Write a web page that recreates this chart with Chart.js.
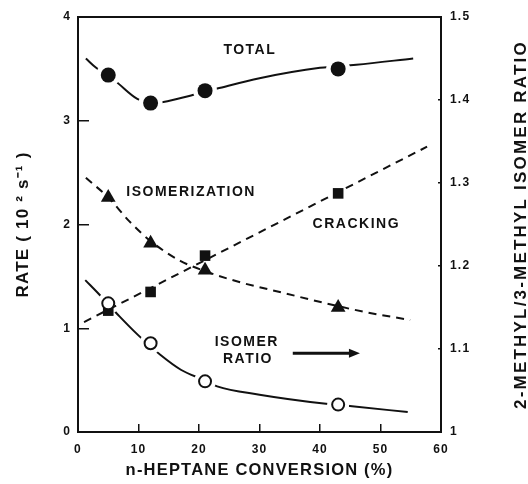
<!DOCTYPE html>
<html>
<head>
<meta charset="utf-8">
<script src="https://cdn.jsdelivr.net/npm/chart.js@4.4.1/dist/chart.umd.min.js"></script>
<style>
  html, body { margin: 0; padding: 0; background: #fff; }
  canvas { display: block; }
</style>
</head>
<body>
<canvas id="chart" width="528" height="484"></canvas>
<script>
// n-heptane conversion (%) at which the rates were measured
const conversion = [5, 12, 21, 43];

// Measured rates (10^2 s^-1) and 2-methyl/3-methyl isomer ratio
const totalRate = [3.44, 3.17, 3.29, 3.50];
const isomerizationRate = [2.26, 1.82, 1.56, 1.20];
const crackingRate = [1.17, 1.35, 1.70, 2.30];
const isomerRatio = [1.155, 1.107, 1.061, 1.033];

// Smoothed trend curves drawn through the measurements
const totalCurveX = [1.3, 3, 6.2, 9.8, 12.5, 17, 23, 30, 40, 46, 55.4];
const totalCurveY = [3.60, 3.51, 3.38, 3.21, 3.17, 3.22, 3.31, 3.41, 3.51, 3.54, 3.60];

const isomerizationCurveX = [1.3, 5, 8.5, 12, 16.9, 21, 27, 34, 41, 48, 54.9];
const isomerizationCurveY = [2.45, 2.26, 2.03, 1.84, 1.65, 1.55, 1.44, 1.34, 1.24, 1.15, 1.08];

const crackingLineX = [1.0, 57.7];
const crackingLineY = [1.06, 2.75];

const ratioCurveX = [1.2, 3.6, 6.9, 9.9, 13.6, 17, 21, 23, 30, 41, 45.3, 54.5];
const ratioCurveY = [1.183, 1.165, 1.139, 1.117, 1.093, 1.075, 1.062, 1.055, 1.045, 1.034, 1.031, 1.024];

// Axis ticks
const conversionTicks = [0, 10, 20, 30, 40, 50, 60];
const rateTicks = [0, 1, 2, 3, 4];
const ratioTicks = [1.0, 1.1, 1.2, 1.3, 1.4, 1.5];

const pts = (xs, ys) => xs.map((x, i) => ({ x: x, y: ys[i] }));

const INK = '#111';
const FONT = '"Liberation Sans", Arial, Helvetica, sans-serif';

// Text labels and the arrow placed inside the plot
const plotText = {
  id: 'plotText',
  afterDatasetsDraw(chart) {
    const { ctx, scales } = chart;
    const x = scales.x, y = scales.y;
    ctx.save();
    ctx.fillStyle = INK;
    ctx.strokeStyle = INK;
    ctx.font = 'bold 14px ' + FONT;
    ctx.letterSpacing = '1.5px';
    ctx.textAlign = 'center';
    ctx.textBaseline = 'middle';
    const put = (t, xv, yv) => ctx.fillText(t, x.getPixelForValue(xv), y.getPixelForValue(yv));
    put('TOTAL', 28.4, 3.68);
    put('ISOMERIZATION', 18.7, 2.31);
    put('CRACKING', 46.0, 2.00);
    put('ISOMER', 27.9, 0.87);
    put('RATIO', 28.1, 0.70);

    // arrow pointing to the right-hand axis
    const ax0 = x.getPixelForValue(35.5), ax1 = x.getPixelForValue(46.6);
    const ay = y.getPixelForValue(0.76);
    ctx.lineWidth = 3;
    ctx.beginPath();
    ctx.moveTo(ax0, ay);
    ctx.lineTo(ax1 - 8, ay);
    ctx.stroke();
    ctx.beginPath();
    ctx.moveTo(ax1, ay);
    ctx.lineTo(ax1 - 11, ay - 4.5);
    ctx.lineTo(ax1 - 11, ay + 4.5);
    ctx.closePath();
    ctx.fill();
    ctx.restore();
  }
};

// Plot frame and the right-hand axis title (reads bottom to top)
const frameAndTitle = {
  id: 'frameAndTitle',
  beforeDraw(chart) {
    chart.ctx.letterSpacing = '1.2px';
  },
  afterDraw(chart) {
    const { ctx, chartArea: a } = chart;
    ctx.save();
    ctx.strokeStyle = INK;
    ctx.lineWidth = 2;
    ctx.strokeRect(a.left, a.top, a.right - a.left, a.bottom - a.top);

    ctx.fillStyle = INK;
    ctx.font = 'bold 17px ' + FONT;
    ctx.letterSpacing = '2.2px';
    ctx.textAlign = 'center';
    ctx.textBaseline = 'middle';
    ctx.translate(521, (a.top + a.bottom) / 2);
    ctx.rotate(-Math.PI / 2);
    ctx.fillText('2-METHYL/3-METHYL ISOMER RATIO', 0, 0);
    ctx.restore();
  }
};

const curve = (data, axis, order, dash) => ({
  type: 'line',
  data: data,
  yAxisID: axis,
  borderColor: INK,
  borderWidth: 2,
  borderDash: dash || [],
  pointRadius: 0,
  cubicInterpolationMode: 'monotone',
  fill: false,
  order: order
});

const markers = (data, axis, order, style, radius, hollow) => ({
  type: 'line',
  data: data,
  yAxisID: axis,
  showLine: false,
  pointStyle: style,
  pointRadius: radius,
  pointBackgroundColor: hollow ? '#fff' : INK,
  pointBorderColor: INK,
  pointBorderWidth: hollow ? 2 : 0,
  order: order
});

// white discs that open a gap in a solid curve around its markers
const halo = (data, axis, order, radius) => ({
  type: 'line',
  data: data,
  yAxisID: axis,
  showLine: false,
  pointStyle: 'circle',
  pointRadius: radius,
  pointBackgroundColor: '#fff',
  pointBorderColor: '#fff',
  pointBorderWidth: 0,
  order: order
});

const noEdgePadding = s => { s.paddingTop = 0; s.paddingBottom = 0; };

new Chart(document.getElementById('chart'), {
  data: {
    datasets: [
      curve(pts(totalCurveX, totalCurveY), 'y', 10),
      halo(pts(conversion, totalRate), 'y', 9, 12),
      curve(pts(ratioCurveX, ratioCurveY), 'y2', 8),
      halo(pts(conversion, isomerRatio), 'y2', 7, 11),
      curve(pts(crackingLineX, crackingLineY), 'y', 6, [8, 6]),
      curve(pts(isomerizationCurveX, isomerizationCurveY), 'y', 5, [8, 6]),
      markers(pts(conversion, totalRate), 'y', 4, 'circle', 7.5, false),
      markers(pts(conversion, isomerizationRate), 'y', 3, 'triangle', 8.5, false),
      markers(pts(conversion, crackingRate), 'y', 2, 'rect', 7.5, false),
      markers(pts(conversion, isomerRatio), 'y2', 1, 'circle', 6, true)
    ]
  },
  options: {
    responsive: false,
    animation: false,
    events: [],
    layout: { padding: { top: 17, left: 0, right: 0, bottom: 0 } },
    plugins: { legend: { display: false }, tooltip: { enabled: false } },
    scales: {
      x: {
        type: 'linear',
        position: 'bottom',
        min: conversionTicks[0],
        max: conversionTicks[conversionTicks.length - 1],
        afterBuildTicks: s => { s.ticks = conversionTicks.map(v => ({ value: v })); },
        afterFit: s => { s.height = 52; s.paddingLeft = 0; s.paddingRight = 0; },
        border: { display: false },
        grid: { drawOnChartArea: false, color: INK, lineWidth: 1.5, tickLength: -8 },
        ticks: { color: INK, padding: 18, font: { family: FONT, size: 12, weight: 'bold' } },
        title: {
          display: true,
          text: 'n-HEPTANE CONVERSION (%)',
          color: INK,
          font: { family: FONT, size: 16.5, weight: 'bold' },
          padding: { top: 0, bottom: 4 }
        }
      },
      y: {
        type: 'linear',
        position: 'left',
        min: rateTicks[0],
        max: rateTicks[rateTicks.length - 1],
        afterBuildTicks: s => { s.ticks = rateTicks.map(v => ({ value: v })); },
        afterFit: s => { s.width = 78; noEdgePadding(s); },
        border: { display: false },
        grid: { drawOnChartArea: false, color: INK, lineWidth: 1.5, tickLength: -11 },
        ticks: { color: INK, padding: 18, font: { family: FONT, size: 12, weight: 'bold' } },
        title: {
          display: true,
          text: 'RATE ( 10 ² s⁻¹ )',
          color: INK,
          font: { family: FONT, size: 17, weight: 'bold' },
          padding: { top: 13, bottom: 0 }
        }
      },
      y2: {
        type: 'linear',
        position: 'right',
        min: ratioTicks[0],
        max: ratioTicks[ratioTicks.length - 1],
        afterBuildTicks: s => { s.ticks = ratioTicks.map(v => ({ value: v })); },
        afterFit: s => { s.width = 87; noEdgePadding(s); },
        border: { display: false },
        grid: { drawOnChartArea: false, color: INK, lineWidth: 1.5, tickLength: -3 },
        ticks: {
          color: INK, padding: 12, font: { family: FONT, size: 12, weight: 'bold' },
          callback: v => String(Math.round(v * 10) / 10)
        }
      }
    }
  },
  plugins: [plotText, frameAndTitle]
});
</script>
</body>
</html>
